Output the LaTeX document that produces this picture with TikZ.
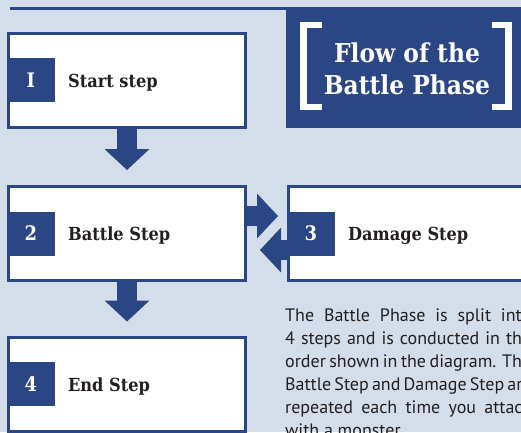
\documentclass[tikz,border=0pt]{standalone}
\usepackage{fontspec}
\setmainfont{DejaVu Serif Condensed}
\setsansfont{PT Sans}
\usetikzlibrary{arrows.meta}

\definecolor{phaseblue}{RGB}{43,70,133}
\definecolor{paper}{RGB}{212,222,234}
\definecolor{ink}{RGB}{35,31,32}

\begin{document}
\begin{tikzpicture}[x=1pt,y=-1pt,
  stepbox/.style={draw=phaseblue,line width=3pt,fill=white,minimum width=237pt,minimum height=94pt,inner sep=0pt},
  numtab/.style={fill=phaseblue,minimum width=47.5pt,minimum height=44pt,inner sep=0pt},
  numtext/.style={anchor=base,text=white,font=\bfseries\fontsize{20}{24}\selectfont,inner sep=0pt},
  steptext/.style={anchor=base west,text=ink,font=\bfseries\fontsize{18}{22}\selectfont,inner sep=0pt},
  flowarrow/.style={draw=phaseblue,line width=20pt,-{Triangle[length=21pt,width=45pt,line width=0pt]}},
  titletext/.style={text=white,font=\bfseries\fontsize{26}{32}\selectfont,align=center,inner sep=0pt},
  bracket/.style={draw=white,line width=6.5pt},
  bodytext/.style={anchor=base west,text=ink,font=\sffamily\fontsize{18}{23}\selectfont,align=left,inner sep=0pt}]
\useasboundingbox (0,0) rectangle (521,432);
\clip (0,0) rectangle (521,432);
\fill[paper] (0,0) rectangle (521,432);

% Title panel
\node[fill=phaseblue,anchor=north west,minimum width=240pt,minimum height=121pt,inner sep=0pt] (title) at (286,7) {};
\node[titletext] (ttl) at (407,69) {Flow of the\\Battle Phase};
\coordinate (rule) at (10,8);
\draw[phaseblue,line width=3pt] (rule) -- (rule -| title.west);
\draw[bracket] (322,25) -- (303.5,25) -- (303.5,107) -- (322,107);
\draw[bracket] (492,25) -- (508.5,25) -- (508.5,107) -- (492,107);

% The four steps
\foreach \n/\xc/\yc/\num/\txt in {1/127/80/I/Start step, 2/127/233.5/2/Battle Step, 3/407/233.5/3/Damage Step, 4/127/384/4/End Step} {
  \node[stepbox] (s\n) at (\xc,\yc) {};
  \node[numtab,anchor=west] (t\n) at (s\n.west) {};
  \node[numtext] (n\n) at ([yshift=-7pt]t\n.center) {\num};
  \node[steptext] (l\n) at ([xshift=13pt,yshift=-7pt]t\n.east) {\txt};
}

% Arrows between the steps
\draw[flowarrow,shorten >=15pt] (s1.south) -- (s2.north);
\draw[flowarrow,shorten >=14pt] (s2.south) -- (s4.north);
\draw[flowarrow,shorten >=9pt] ([yshift=17.5pt]s2.east) -- ([yshift=17.5pt]s3.west);
\draw[flowarrow,shorten >=13pt] ([yshift=-16.5pt]s3.west) -- ([yshift=-16.5pt]s2.east);

% Explanation (base is the last line)
\node[bodytext] (body) at (285,436) {\makebox[246pt][s]{The Battle Phase is split into}\\
\makebox[246pt][s]{4 steps and is conducted in the}\\
\makebox[246pt][s]{order shown in the diagram. The}\\
\makebox[246pt][s]{Battle Step and Damage Step are}\\
\makebox[246pt][s]{repeated each time you attack}\\
with a monster.};
\end{tikzpicture}
\end{document}
